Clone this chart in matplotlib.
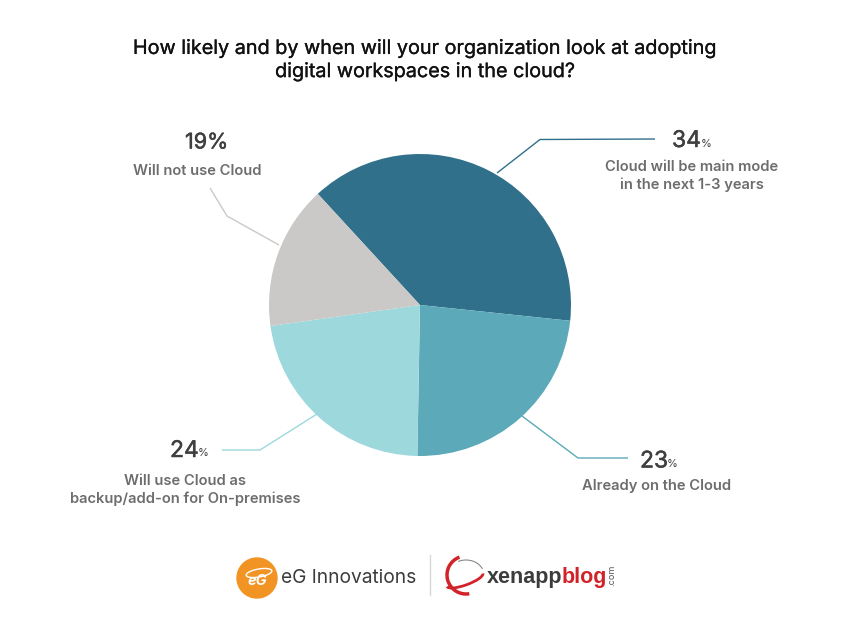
import matplotlib as mlp
mlp.use("Agg")
import matplotlib.pyplot as plt
import matplotlib.patheffects as pe
from matplotlib.patches import Circle, Arc

# slice sizes as drawn (degrees of the pie, they do not follow the printed labels)
slice_names = ["Cloud will be main mode\nin the next 1-3 years", "Already on the Cloud",
               "Will use Cloud as\nbackup/add-on for On-premises", "Will not use Cloud"]
slice_sizes = [138.6, 85.0, 81.0, 55.4]
slice_colors = ["#30708a", "#5caab9", "#9dd8dc", "#cbc9c8"]
printed_pct = ["34", "23", "24", "19%"]

title = "How likely and by when will your organization look at adopting\ndigital workspaces in the cloud?"
H = 628

plt.rcParams['font.family'] = ['Inter', 'DejaVu Sans']
fig = plt.figure(figsize=(8.5, 6.28), dpi=100)
ax = fig.add_axes([0, 0, 1, 1])

ax.pie(slice_sizes, colors=slice_colors, startangle=132.6, counterclock=False,
       center=(420, H-305), radius=151, frame=True)
ax.set_xlim(0, 850)
ax.set_ylim(0, H)
ax.axis('off')

def txt(x, y, s, **kw):
    return ax.text(x, H-y, s, ha=kw.pop('ha', 'center'), va=kw.pop('va', 'center'), **kw)

def leader(xs, ys, col):
    ax.plot(xs, [H-y for y in ys], color=col, lw=1, solid_capstyle='butt')

# a bit of stroke, the reference font is a medium weight
medium = lambda col, w=0.35: [pe.withStroke(linewidth=w, foreground=col)]

txt(425, 60.5, title, fontsize=14.25, color="#111111", linespacing=1.37, path_effects=medium("#111111", 0.2))

# leader lines
leader([497, 540, 655], [173, 139.5, 139], slice_colors[0])
leader([522, 578, 628], [416, 458, 458], slice_colors[1])
leader([222, 260, 317], [450, 450, 414], slice_colors[2])
leader([279, 227, 210], [245, 216, 188], slice_colors[3])

# percent numbers with the small % sign
def pct(x, y, s, size=16.5):
    return txt(x, y, s, fontsize=size, color="#3f3f3f", ha='left', path_effects=medium("#3f3f3f"))

pct(672, 141, printed_pct[0])
txt(701, 144, "%", fontsize=8, color="#3f3f3f", ha='left')
pct(640, 461.5, printed_pct[1])
txt(667, 464, "%", fontsize=8, color="#3f3f3f", ha='left')
pct(170, 451, printed_pct[2])
txt(198, 453, "%", fontsize=8, color="#3f3f3f", ha='left')
pct(185, 142.5, printed_pct[3], size=15.5)

label_kw = dict(fontsize=10.6, color="#6d6d6d", fontweight='semibold', linespacing=1.3)
txt(692, 176, slice_names[0], **label_kw)
txt(657, 486, slice_names[1], **label_kw)
txt(185, 490, slice_names[2], **label_kw)
txt(197, 171, slice_names[3], **label_kw)

# footer logos
ax.add_patch(Circle((257, H-578), 20, color="#f29423", zorder=3))
txt(257, 581, "eG", fontsize=10.5, color="white", fontweight='bold', style='italic', zorder=4)
ax.add_patch(Arc((259, H-573), 26, 8, angle=10, color="white", lw=1, zorder=4))
txt(281, 578, "eG Innovations", fontsize=13.8, color="#3c3c3c", ha='left')
ax.plot([430.5, 430.5], [H-555, H-595], color="#d8d8d8", lw=1)

ax.add_patch(Arc((466, H-575), 38, 38, angle=0, theta1=110, theta2=280, color="#d2232a", lw=2.5))
ax.add_patch(Arc((465, H-580), 38, 10, angle=20, theta1=180, theta2=360, color="#d2232a", lw=2))
ax.add_patch(Arc((466, H-575), 36, 30, angle=0, theta1=20, theta2=120, color="#888888", lw=0.8))
txt(487, 577, "xenapp", fontsize=15.5, color="#3c3c3c", ha='left', family='Liberation Sans', fontweight='bold')
txt(562, 577, "blog", fontsize=15.5, color="#d2232a", ha='left', family='Liberation Sans', fontweight='bold')
txt(612, 575, ".com", fontsize=6.5, color="#555555", rotation=90)

fig.savefig("out.png", dpi=100)
